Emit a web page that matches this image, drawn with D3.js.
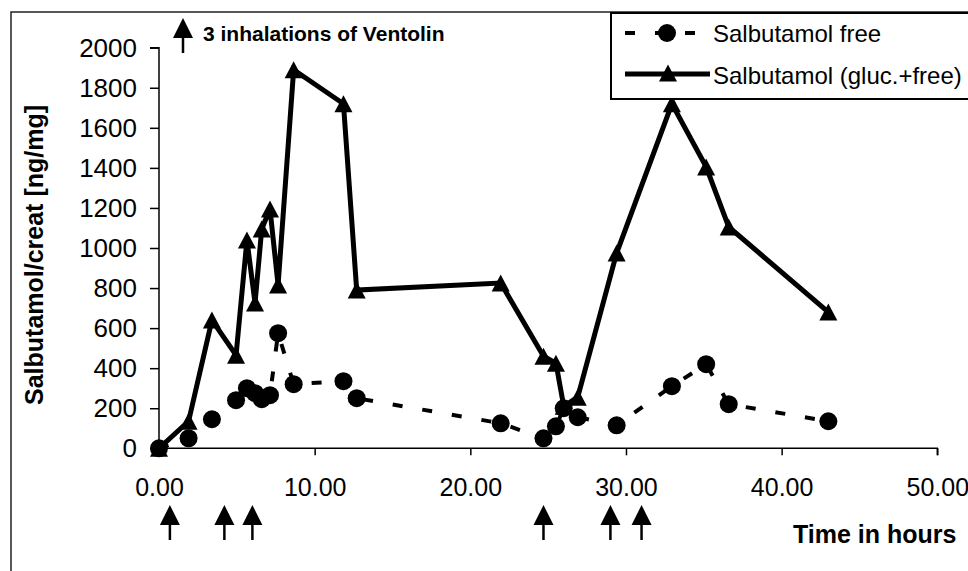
<!DOCTYPE html>
<html>
<head>
<meta charset="utf-8">
<script src="https://cdn.jsdelivr.net/npm/d3@7/dist/d3.min.js"></script>
<style>
  html, body { margin: 0; padding: 0; background: #fff; }
  svg { display: block; }
  text { font-family: "Liberation Sans", Arial, sans-serif; fill: #000; }
</style>
</head>
<body>
<svg id="chart" width="968" height="571"></svg>
<script>
// ---- data ----
const timeHours = [0, 1.9, 3.4, 4.95, 5.65, 6.17, 6.6, 7.13, 7.65, 8.65, 11.85, 12.7,
                   21.95, 24.7, 25.5, 26.0, 26.9, 29.4, 32.95, 35.15, 36.6, 43.0];
const salbutamolFree  = [0, 50, 145, 240, 300, 275, 245, 265, 575, 320, 335, 250,
                         125, 50, 110, 200, 155, 115, 310, 420, 220, 135];
const salbutamolTotal = [0, 135, 640, 465, 1040, 725, 1095, 1195, 815, 1890, 1720, 790,
                         825, 460, 425, 210, 255, 975, 1720, 1405, 1105, 680];
const inhalationTimes = [0.7, 4.2, 6.0, 24.7, 29.0, 31.0];
const xTicks = [0, 10, 20, 30, 40, 50];
const yTicks = [0, 200, 400, 600, 800, 1000, 1200, 1400, 1600, 1800, 2000];
const seriesNames = ["Salbutamol free", "Salbutamol (gluc.+free)"];
const yTitle = "Salbutamol/creat [ng/mg]";
const xTitle = "Time in hours";
const noteText = "3 inhalations of Ventolin";

// ---- layout ----
const svg = d3.select("#chart");
const x = d3.scaleLinear().domain([0, 50]).range([159, 937.3]);
const y = d3.scaleLinear().domain([0, 2000]).range([448.3, 47.7]);

// outer frame
svg.append("rect").attr("x", 11).attr("y", 12).attr("width", 980).attr("height", 600)
  .attr("fill", "none").attr("stroke", "#222").attr("stroke-width", 1.5);

// axes
const yAxis = d3.axisLeft(y).tickValues(yTicks).tickSize(9).tickPadding(13).tickFormat(d3.format("d"));
const xAxis = d3.axisBottom(x).tickValues(xTicks).tickSize(7).tickPadding(23).tickFormat(d3.format(".2f"));

const gy = svg.append("g").attr("transform", `translate(${x(0)},0)`).call(yAxis);
gy.select(".domain").attr("stroke", "#000").attr("stroke-width", 1.5).attr("d", `M-9,${y(2000)}H0V${y(0)}`);
gy.selectAll(".tick line").attr("stroke", "#000").attr("stroke-width", 1.5);
gy.selectAll(".tick text").attr("font-size", 26).attr("font-family", "Liberation Sans, Arial, sans-serif").attr("fill", "#000");

const gx = svg.append("g").attr("transform", `translate(0,${y(0)})`).call(xAxis);
gx.select(".domain").attr("stroke", "#000").attr("stroke-width", 1.5).attr("d", `M${x(0)},0H${x(50)}V7`);
gx.selectAll(".tick line").attr("stroke", "#000").attr("stroke-width", 1.5);
gx.selectAll(".tick text").attr("font-size", 25).attr("font-family", "Liberation Sans, Arial, sans-serif").attr("fill", "#000");

// axis titles
svg.append("text").attr("transform", "translate(43,255) rotate(-90)")
  .attr("text-anchor", "middle").attr("font-size", 25).attr("font-weight", "bold").text(yTitle);
svg.append("text").attr("x", 793).attr("y", 543)
  .attr("font-size", 25).attr("font-weight", "bold").text(xTitle);

// ---- series ----
const totalPts = timeHours.map((t, i) => [t, salbutamolTotal[i]]);
const freePts  = timeHours.map((t, i) => [t, salbutamolFree[i]]);
const line = d3.line().x(d => x(d[0])).y(d => y(d[1]));

const triPath = "M0,-8.5L9,8.5L-9,8.5Z";

svg.append("path").datum(totalPts).attr("d", line)
  .attr("fill", "none").attr("stroke", "#000").attr("stroke-width", 5)
  .attr("stroke-linejoin", "miter").attr("stroke-miterlimit", 4);
svg.append("g").selectAll("path").data(totalPts).join("path")
  .attr("transform", d => `translate(${x(d[0])},${y(d[1])})`)
  .attr("d", triPath).attr("fill", "#000");

svg.append("path").datum(freePts).attr("d", line)
  .attr("fill", "none").attr("stroke", "#000").attr("stroke-width", 4)
  .attr("stroke-dasharray", "10,20");
svg.append("g").selectAll("circle").data(freePts).join("circle")
  .attr("cx", d => x(d[0])).attr("cy", d => y(d[1])).attr("r", 9).attr("fill", "#000");

// ---- inhalation arrows ----
function arrow(g, cx, top) {
  g.append("path").attr("d", `M${cx},${top}L${cx + 10},${top + 20}L${cx - 10},${top + 20}Z`).attr("fill", "#000");
  g.append("line").attr("x1", cx).attr("x2", cx).attr("y1", top + 15).attr("y2", top + 35)
    .attr("stroke", "#000").attr("stroke-width", 2.5);
}
const ga = svg.append("g");
inhalationTimes.forEach(t => arrow(ga, x(t), 505));

// note at top
arrow(svg.append("g"), 183, 18);
svg.append("text").attr("x", 203).attr("y", 41).attr("font-size", 21).attr("font-weight", "bold").text(noteText);

// ---- legend ----
const lg = svg.append("g");
lg.append("rect").attr("x", 611).attr("y", 13).attr("width", 370).attr("height", 86)
  .attr("fill", "#fff").attr("stroke", "#000").attr("stroke-width", 2);
lg.append("line").attr("x1", 625).attr("x2", 710).attr("y1", 33).attr("y2", 33)
  .attr("stroke", "#000").attr("stroke-width", 4).attr("stroke-dasharray", "10,20");
lg.append("circle").attr("cx", 667).attr("cy", 33).attr("r", 9).attr("fill", "#000");
lg.append("text").attr("x", 713).attr("y", 42).attr("font-size", 24).text(seriesNames[0]);
lg.append("line").attr("x1", 625).attr("x2", 710).attr("y1", 74).attr("y2", 74)
  .attr("stroke", "#000").attr("stroke-width", 5);
lg.append("path").attr("transform", "translate(668,73)").attr("d", triPath).attr("fill", "#000");
lg.append("text").attr("x", 713).attr("y", 84).attr("font-size", 24).text(seriesNames[1]);
</script>
</body>
</html>
